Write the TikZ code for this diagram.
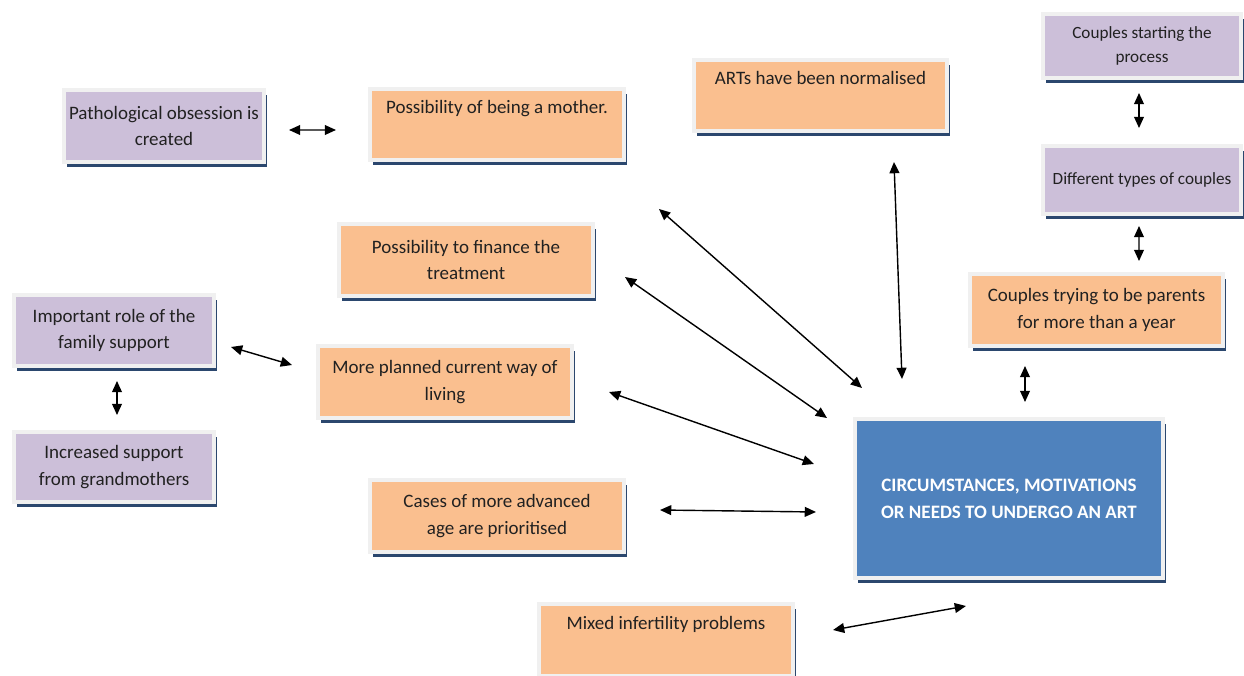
\documentclass[tikz,border=0pt]{standalone}
\usepackage{fontspec}
\setmainfont{Carlito}
\usetikzlibrary{arrows.meta,calc,shadows}
\definecolor{OrangeClr}{rgb}{0.98,0.75,0.56}
\definecolor{LilacClr}{rgb}{0.80,0.75,0.85}
\definecolor{BlueClr}{rgb}{0.31,0.51,0.74}
\definecolor{ShadowClr}{rgb}{0.17,0.28,0.43}
\definecolor{FrameClr}{rgb}{0.94,0.94,0.94}
\definecolor{TextClr}{rgb}{0.13,0.13,0.13}

\tikzset{
  card/.style={draw=FrameClr, line width=2.8pt, align=center, inner sep=2pt,
    text=TextClr, font={\fontsize{13.5}{19}\selectfont},
    drop shadow={shadow xshift=2.2pt, shadow yshift=-3.4pt, fill=ShadowClr, opacity=1}},
  orangecard/.style={card, fill=OrangeClr, minimum width=6.35cm, minimum height=1.8cm},
  lilaccard/.style={card, fill=LilacClr, minimum width=5cm, minimum height=1.8cm},
  smallcard/.style={lilaccard, minimum width=4.95cm, font={\fontsize{12.2}{17}\selectfont}},
  link/.style={{Triangle[length=8pt,width=7pt]}-{Triangle[length=8pt,width=7pt]},
    line width=1pt, black}
}

\begin{document}
\begin{tikzpicture}[x=0.025cm,y=-0.025cm]
\useasboundingbox (0,0) rectangle (1244,676);

% boxes
\node[lilaccard] (patho) at (164,126) {Pathological obsession is\\created};
\node[orangecard, minimum height=1.775cm] (mother) at (497,124.5) {Possibility of being a mother.\\\strut};
\node[orangecard, minimum width=6.325cm, minimum height=1.775cm] (arts) at (820.5,95.5) {ARTs have been normalised\\\strut};
\node[smallcard, minimum height=1.6cm] (starting) at (1142,46) {Couples starting the\\process};
\node[smallcard, minimum height=1.7cm] (different) at (1142,180) {Different types of couples};
\node[orangecard, minimum width=6.325cm] (trying) at (1096.5,310) {Couples trying to be parents\\for more than a year};
\node[orangecard] (finance) at (466,260) {Possibility to finance the\\treatment};
\node[lilaccard, minimum height=1.775cm] (family) at (114,330.5) {Important role of the\\family support};
\node[orangecard] (planned) at (445,382) {More planned current way of\\living};
\node[lilaccard, minimum height=1.75cm] (grandma) at (114,467) {Increased support\\from grandmothers};
\node[orangecard] (cases) at (497,516) {Cases of more advanced\\age are prioritised};
\node[orangecard] (mixed) at (666,640) {Mixed infertility problems\\\strut};
\node[card, fill=BlueClr, text=white, font={\fontsize{13.5}{19}\selectfont\bfseries},
  minimum width=7.7cm, minimum height=3.975cm] (art) at (1009,498.5)
  {CIRCUMSTANCES, MOTIVATIONS\\OR NEEDS TO UNDERGO AN ART};

% links
\draw[link] ($(patho.east)+(23,4)$) -- ($(mother.west)+(-32,5.5)$);
\draw[link] ($(mother.south east)+(33,47)$) -- ($(art.north west)+(9,-29)$);
\draw[link] ($(arts.south east)+(-55,29)$) -- ($(art.north west)+(49,-38)$);
\draw[link] ($(finance.east)+(30,17)$) -- ($(art.north west)+(-26,1)$);
\draw[link] ($(planned.east)+(35,10)$) -- ($(art.west)+(-39,-34.5)$);
\draw[link] ($(cases.east)+(34,-6)$) -- ($(art.west)+(-37,13.5)$);
\draw[link] ($(mixed.east)+(38,-10)$) -- ($(art.south west)+(113,26)$);
\draw[link] ($(trying.south)+(-71.5,18)$) -- ($(art.north)+(16,-15)$);
\draw[link] ($(different.south)+(-3,10)$) -- ($(trying.north)+(42.5,-11)$);
\draw[link] ($(starting.south)+(-3,13)$) -- ($(different.north)+(-3,-16)$);
\draw[link] ($(family.east)+(15,16.5)$) -- ($(planned.west)+(-24,-17)$);
\draw[link] ($(family.south)+(3,13)$) -- ($(grandma.north)+(3,-15)$);

\end{tikzpicture}
\end{document}
